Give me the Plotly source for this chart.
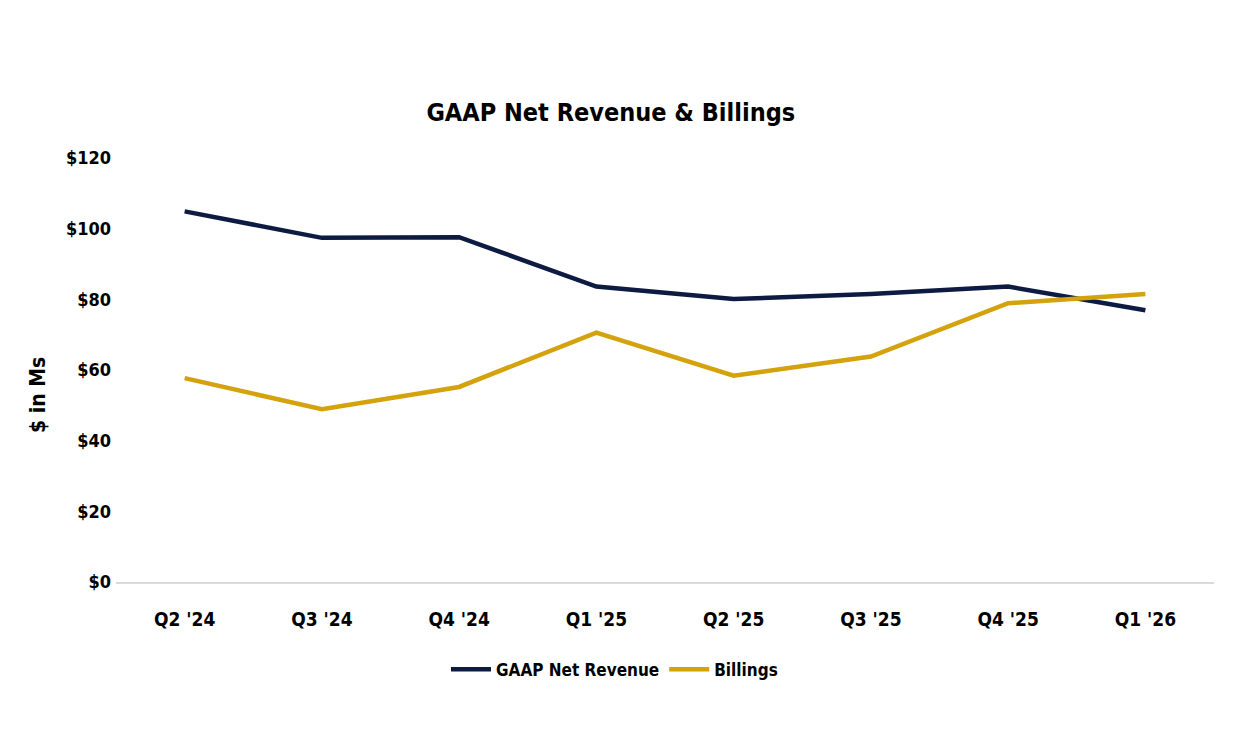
import plotly.graph_objects as go

quarters = ["Q2 '24", "Q3 '24", "Q4 '24", "Q1 '25", "Q2 '25", "Q3 '25", "Q4 '25", "Q1 '26"]
gaap_net_revenue = [104.9, 97.4, 97.6, 83.6, 80.1, 81.5, 83.6, 76.9]
billings = [57.7, 48.9, 55.2, 70.6, 58.4, 63.8, 78.9, 81.5]
y_ticks = [0, 20, 40, 60, 80, 100, 120]

NAVY = "#0d1b42"
GOLD = "#d4a20c"
FONT = "Liberation Sans Narrow, Arial Narrow, DejaVu Sans Condensed, sans-serif"

x_pos = list(range(len(quarters)))

fig = go.Figure()
fig.add_trace(go.Scatter(x=x_pos, y=gaap_net_revenue, mode="lines",
                         name="<b>GAAP Net Revenue</b>", line=dict(color=NAVY, width=4.5)))
fig.add_trace(go.Scatter(x=x_pos, y=billings, mode="lines",
                         name="<b>Billings</b>", line=dict(color=GOLD, width=4.5)))

fig.update_layout(
    width=1248, height=744,
    margin=dict(l=108, r=42, t=150, b=170),
    paper_bgcolor="white", plot_bgcolor="white",
    font=dict(family=FONT, color="#000000", size=16),
    title=dict(text="<b>GAAP Net Revenue & Billings</b>", x=0.483, xanchor="center",
               y=1 - 104 / 744, yanchor="middle", font=dict(size=25, family=FONT)),
    showlegend=True,
    legend=dict(orientation="h", x=0.454, xanchor="center", y=-0.207, yanchor="middle",
                font=dict(size=17, family=FONT), itemwidth=40, traceorder="normal"),
    xaxis=dict(showgrid=False, showline=True, linecolor="#d9d9d9", linewidth=2,
               ticks="", ticklabelstandoff=19, tickfont=dict(size=19, family=FONT),
               range=[-0.5, 7.5], zeroline=False,
               tickvals=x_pos, ticktext=[f"<b>{q}</b>" for q in quarters]),
    yaxis=dict(range=[0, 120], tickvals=y_ticks, ticktext=[f"<b>${v}</b>" for v in y_ticks],
               showgrid=False, zeroline=False, showline=False, ticks="",
               ticklabelstandoff=4, tickfont=dict(size=18, family=FONT)),
    annotations=[dict(text="<b>$ in Ms</b>", x=-0.071, y=0.441, xref="paper", yref="paper",
                      xanchor="center", yanchor="middle",
                      textangle=-90, showarrow=False, font=dict(size=21, family=FONT))],
)

fig.write_html("out.html")
